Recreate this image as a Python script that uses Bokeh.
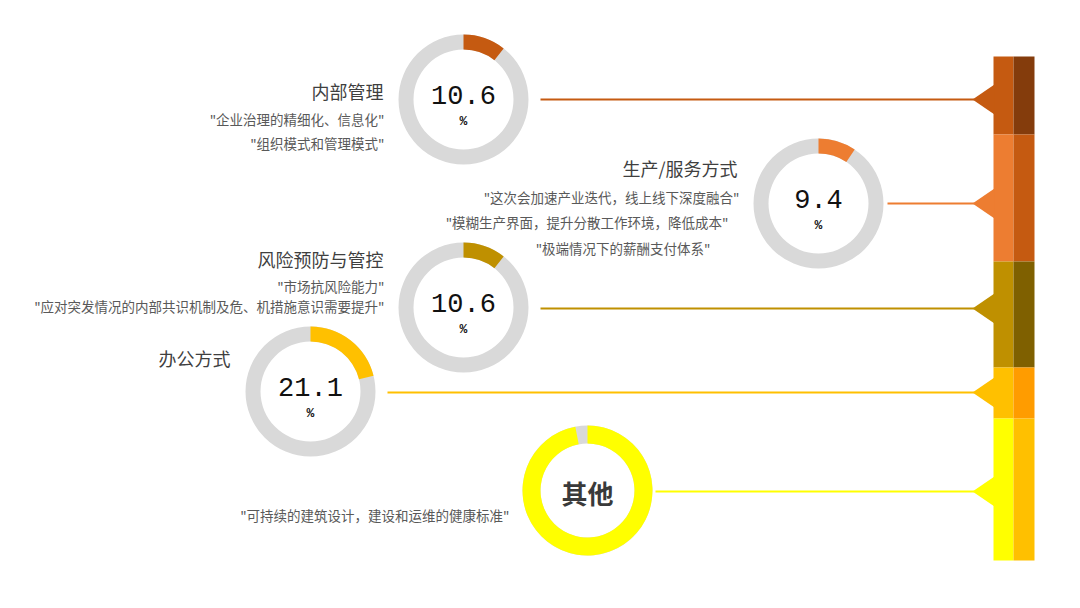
import math
from bokeh.plotting import figure
from bokeh.models import Range1d
from bokeh.core.properties import value
from bokeh.embed import file_html
from bokeh.resources import INLINE

# ---------------- data ----------------
categories = ["内部管理", "生产/服务方式", "风险预防与管控", "办公方式", "其他"]
values = [10.6, 9.4, 10.6, 21.1]          # percent shown in the rings
other_fill = 97.0                          # share of the "其他" ring drawn in yellow
value_labels = ["10.6", "9.4", "10.6", "21.1"]
quotes = [
    ['"企业治理的精细化、信息化"', '"组织模式和管理模式"'],
    ['"这次会加速产业迭代，线上线下深度融合"', '"模糊生产界面，提升分散工作环境，降低成本"', '"极端情况下的薪酬支付体系"'],
    ['"市场抗风险能力"', '"应对突发情况的内部共识机制及危、机措施意识需要提升"'],
    [],
    ['"可持续的建筑设计，建设和运维的健康标准"'],
]
main_colors = ["#C55A11", "#ED7D31", "#BF9000", "#FFC000", "#FFFF00"]
dark_colors = ["#843C0C", "#C55A11", "#7F6000", "#FF9C00", "#FFC000"]
ring_bg = "#D9D9D9"

# ---------------- layout (screen px of the 1080x608 page) ----------------
H = 608
ring_cx = [463, 818, 463, 310, 587]
ring_cy = [99, 203, 307, 391, 490]
ring_outer = [65, 65, 65, 65, 65]
ring_inner = [50, 50, 50, 50, 47]
line_x0 = [540, 887, 540, 387, 655]
line_y = [99, 203, 308, 392, 491]
bar_bounds = [56, 134, 261, 367, 418, 560]
bar_x = [993, 1013, 1034]
tip_x = 972
tip_half = 15

title_pos = [(383, 90), (737, 167), (383, 258), (230, 357)]
quote_pos = [
    [(384, 118), (384, 142)],
    [(739, 196), (728, 221), (710, 247)],
    [(384, 285), (384, 305)],
    [],
    [(509, 514)],
]

def Y(py):
    return H - py

p = figure(width=1064, height=592, output_backend="svg", toolbar_location=None,
           x_range=Range1d(0, 1064), y_range=Range1d(16, 608), min_border=0)
p.axis.visible = False
p.grid.visible = False
p.outline_line_color = None
p.background_fill_color = "white"
p.border_fill_color = "white"

# connector lines
for i in range(5):
    p.segment(x0=[line_x0[i]], y0=[Y(line_y[i])], x1=[tip_x + 2], y1=[Y(line_y[i])],
              line_color=main_colors[i], line_width=2)

# right bar
for i in range(5):
    top, bot = bar_bounds[i], bar_bounds[i + 1]
    p.quad(left=[bar_x[0]], right=[bar_x[1]], top=[Y(top)], bottom=[Y(bot)],
           fill_color=main_colors[i], line_color=None)
    p.quad(left=[bar_x[1]], right=[bar_x[2]], top=[Y(top)], bottom=[Y(bot)],
           fill_color=dark_colors[i], line_color=None)
    yy = line_y[i]
    p.patch(x=[tip_x, bar_x[0] + 1, bar_x[0] + 1], y=[Y(yy), Y(yy - tip_half), Y(yy + tip_half)],
            fill_color=main_colors[i], line_color=None)

# rings
fills = values + [other_fill]
for i in range(5):
    cx, cy = ring_cx[i], Y(ring_cy[i])
    p.annulus(x=[cx], y=[cy], inner_radius=ring_inner[i], outer_radius=ring_outer[i],
              fill_color=ring_bg, line_color=None)
    start = math.pi / 2
    end = start - 2 * math.pi * fills[i] / 100.0
    p.annular_wedge(x=[cx], y=[cy], inner_radius=ring_inner[i], outer_radius=ring_outer[i],
                    start_angle=[start], end_angle=[end], direction="clock",
                    fill_color=main_colors[i], line_color=None)

# numbers in rings
for i in range(4):
    cx, cy = ring_cx[i], ring_cy[i]
    p.text(x=[cx], y=[Y(cy - 5)], text=[value_labels[i]], text_align="center",
           text_baseline="middle", text_font=value("Liberation Mono"),
           text_font_size="27px", text_color="#111111")
    p.text(x=[cx], y=[Y(cy + 22)], text=["%"], text_align="center",
           text_baseline="middle", text_font=value("Liberation Mono"),
           text_font_size="13px", text_font_style="bold", text_color="#111111")

p.text(x=[ring_cx[4]], y=[Y(ring_cy[4] + 2)], text=[categories[4]], text_align="center",
       text_baseline="middle", text_font=value("Noto Sans CJK SC"),
       text_font_size="26px", text_font_style="bold", text_color="#3A3A3A")

# titles
for i in range(4):
    x, y = title_pos[i]
    p.text(x=[x], y=[Y(y)], text=[categories[i]], text_align="right",
           text_baseline="middle", text_font=value("Noto Sans CJK SC"),
           text_font_size="18px", text_color="#3F3F3F")

# quotes
for i in range(5):
    for q, (x, y) in zip(quotes[i], quote_pos[i]):
        p.text(x=[x], y=[Y(y)], text=[q], text_align="right",
               text_baseline="middle", text_font=value("Noto Sans CJK SC"),
               text_font_size="13.5px", text_color="#595959")

open("out.html", "w").write(file_html(p, INLINE))
